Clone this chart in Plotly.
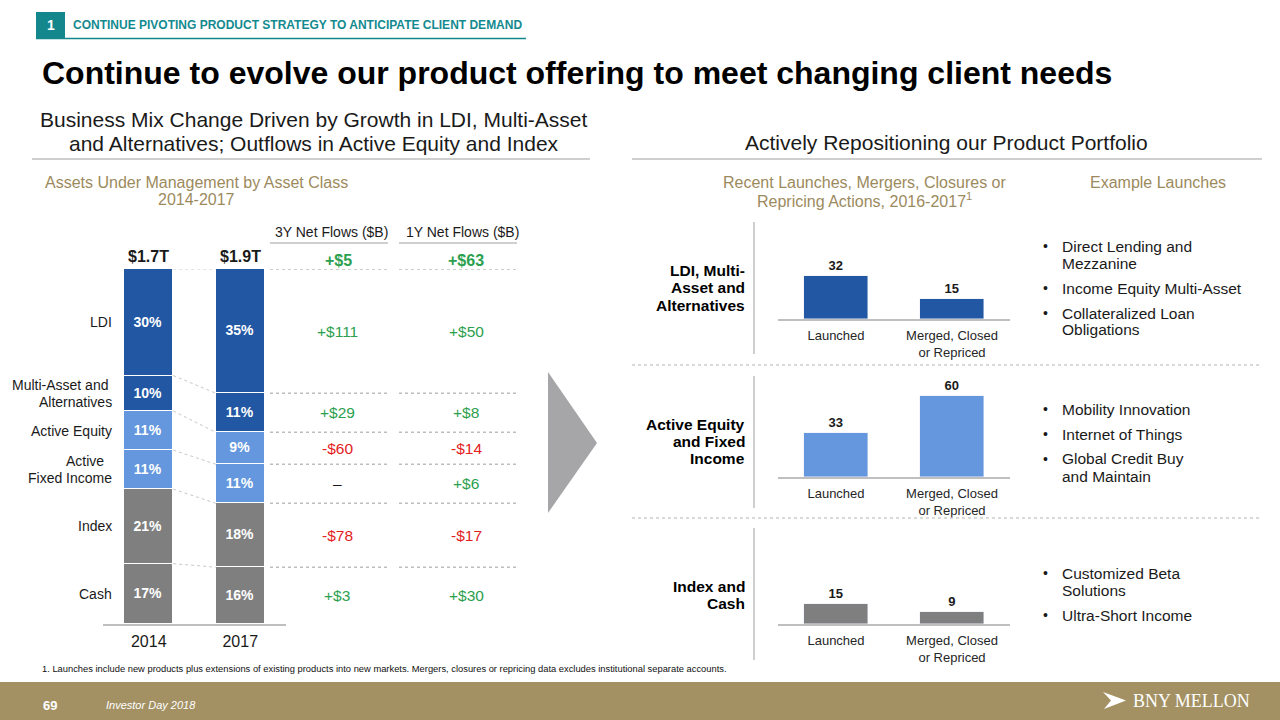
import plotly.graph_objects as go

W, H = 1280, 720


def px(x):
    return x / W


def py(y):
    return 1 - y / H


FONT = "Liberation Sans, Arial, Helvetica, sans-serif"
SERIF = "Liberation Serif, Times New Roman, serif"

# ---------------- data ----------------
years = ["2014", "2017"]
aum_totals = ["$1.7T", "$1.9T"]
asset_classes = ["LDI", "Multi-Asset and Alternatives", "Active Equity",
                 "Active Fixed Income", "Index", "Cash"]
class_label_lines = [["LDI"], ["Multi-Asset and\u00a0", "Alternatives"], ["Active Equity"],
                     ["Active\u00a0\u00a0", "Fixed Income"], ["Index"], ["Cash"]]
mix_2014 = [30, 10, 11, 11, 21, 17]
mix_2017 = [35, 11, 9, 11, 18, 16]
flows_3y = [111, 29, -60, None, -78, 3]
flows_1y = [50, 8, -14, 6, -17, 30]
total_flow_3y = 5
total_flow_1y = 63

action_cats = ["Launched", "Merged, Closed<br>or Repriced"]
group_label_lines = [["LDI, Multi-", "Asset and", "Alternatives"],
                     ["Active Equity", "and Fixed", "Income"],
                     ["Index and", "Cash"]]
launched = [32, 33, 15]
merged = [15, 60, 9]
examples = [
    [["Direct Lending and", "Mezzanine"], ["Income Equity Multi-Asset"],
     ["Collateralized Loan", "Obligations"]],
    [["Mobility Innovation"], ["Internet of Things"], ["Global Credit Buy", "and Maintain"]],
    [["Customized Beta", "Solutions"], ["Ultra-Short Income"]],
]

# ---------------- styles ----------------
DARK_BLUE = "#2257A4"
LIGHT_BLUE = "#6497DD"
GRAY = "#7F7F7F"
class_colors = [DARK_BLUE, DARK_BLUE, LIGHT_BLUE, LIGHT_BLUE, GRAY, GRAY]
group_colors = [DARK_BLUE, LIGHT_BLUE, GRAY]
GREEN = "#2BA04E"
RED = "#E3211C"
TEAL = "#14878D"
TAN = "#9C8A5D"
BAND = "#A39163"
TXT = "#1A1A1A"
LINE_GRAY = "#C4C4C4"


def fmt_flow(v):
    if v is None:
        return "\u2013"
    return f"+${v}" if v > 0 else f"-${-v}"


def flow_color(v):
    if v is None:
        return TXT
    return GREEN if v > 0 else RED


fig = go.Figure()

# ---- stacked AUM bars ----
BAR_W = 0.535
for i in reversed(range(len(asset_classes))):
    fig.add_trace(go.Bar(
        x=[0, 1], y=[mix_2014[i], mix_2017[i]], width=BAR_W,
        name=asset_classes[i],
        marker=dict(color=class_colors[i], line=dict(color="white", width=1.5)),
        text=[f"{mix_2014[i]}%", f"{mix_2017[i]}%"],
        texttemplate="<b>%{text}</b>", textposition="inside",
        insidetextanchor="middle", textangle=0,
        textfont=dict(color="white", size=14, family=FONT),
        xaxis="x", yaxis="y", hoverinfo="skip"))

# ---- small action charts ----
baselines = [319, 477, 624]
for g in range(3):
    fig.add_trace(go.Bar(
        x=[0, 1], y=[launched[g], merged[g]], width=0.55,
        marker=dict(color=group_colors[g]),
        text=[str(launched[g]), str(merged[g])],
        texttemplate="<b>%{text}</b>", textposition="outside", cliponaxis=False,
        textfont=dict(color=TXT, size=13, family=FONT),
        xaxis=f"x{g + 2}", yaxis=f"y{g + 2}", hoverinfo="skip"))

layout_axes = dict(
    xaxis=dict(domain=[px(103), px(286)], range=[-0.5, 1.5], tickvals=[0, 1], ticktext=years,
               showline=True, linecolor="#BFBFBF", linewidth=2, ticks="", showgrid=False,
               zeroline=False, tickfont=dict(size=16, color=TXT, family=FONT),
               ticklabelstandoff=2, anchor="y", fixedrange=True),
    yaxis=dict(domain=[py(624), py(269)], range=[0, 100], visible=False, anchor="x",
               fixedrange=True),
)
for g in range(3):
    n = g + 2
    layout_axes[f"xaxis{n}"] = dict(
        domain=[px(778), px(1010)], range=[-0.5, 1.5], tickvals=[0, 1], ticktext=action_cats,
        showline=True, linecolor="#BFBFBF", linewidth=1.5, ticks="", showgrid=False,
        zeroline=False, tickfont=dict(size=13, color="#262626", family=FONT),
        ticklabelstandoff=4, anchor=f"y{n}", fixedrange=True)
    layout_axes[f"yaxis{n}"] = dict(
        domain=[py(baselines[g]), py(baselines[g] - 94)], range=[0, 70], visible=False,
        anchor=f"x{n}", fixedrange=True)

shapes = []
annotations = []


def ann(text, x, y, size=14, color=TXT, bold=False, xanchor="center", yanchor="middle",
        family=FONT, xref="paper", yref="paper", yshift=0, italic=False):
    t = f"<b>{text}</b>" if bold else text
    if italic:
        t = f"<i>{t}</i>"
    annotations.append(dict(
        text=t, x=(px(x) if xref == "paper" else x), y=(py(y) if yref == "paper" else y),
        xref=xref, yref=yref, xanchor=xanchor, yanchor=yanchor, showarrow=False,
        font=dict(size=size, color=color, family=family), yshift=yshift, align="left"))


def line(x0, y0, x1, y1, color=LINE_GRAY, width=1.5, dash="solid", xref="paper", yref="paper"):
    shapes.append(dict(type="line", xref=xref, yref=yref,
                       x0=(px(x0) if xref == "paper" else x0),
                       x1=(px(x1) if xref == "paper" else x1),
                       y0=(py(y0) if yref == "paper" else y0),
                       y1=(py(y1) if yref == "paper" else y1),
                       line=dict(color=color, width=width, dash=dash)))


def rect(x0, y0, x1, y1, color):
    shapes.append(dict(type="rect", xref="paper", yref="paper", x0=px(x0), x1=px(x1),
                       y0=py(y1), y1=py(y0), fillcolor=color, line=dict(width=0),
                       layer="below"))


def path(points, color):
    d = "M " + " L ".join(f"{px(a):.5f},{py(b):.5f}" for a, b in points) + " Z"
    shapes.append(dict(type="path", xref="paper", yref="paper", path=d, fillcolor=color,
                       line=dict(width=0)))


# ---- header ----
rect(36, 12, 65, 38, TEAL)
ann("1", 50.5, 25.5, size=14, color="white", bold=True)
ann("CONTINUE PIVOTING PRODUCT STRATEGY TO ANTICIPATE CLIENT DEMAND", 71, 25.5, size=12,
    color="#138A8F", bold=True, xanchor="left")
line(36, 38.5, 526, 38.5, color=TEAL, width=1.5)
ann("Continue to evolve our product offering to meet changing client needs", 40, 73,
    size=32, color="black", bold=True, xanchor="left")

# ---- section titles ----
ann("Business Mix Change Driven by Growth in LDI, Multi-Asset", 314, 120, size=21)
ann("and Alternatives; Outflows in Active Equity and Index", 314, 144, size=21)
ann("Actively Repositioning our Product Portfolio", 946, 143, size=21)
line(32, 159, 590, 159, color="#CFCFCF", width=2)
line(632, 159, 1262, 159, color="#CFCFCF", width=2)

ann("Assets Under Management by Asset Class", 196, 182, size=16, color=TAN)
ann("2014-2017", 196, 199, size=16, color=TAN)
ann("Recent Launches, Mergers, Closures or", 864, 182, size=16, color=TAN)
ann("Repricing Actions, 2016-2017<sup>1</sup>", 864, 200, size=16, color=TAN)
ann("Example Launches", 1158, 182, size=16, color=TAN)

# ---- AUM totals ----
for i, t in enumerate(aum_totals):
    ann(t, i, 256, size=16, bold=True, xref="x")


# boundaries (from top) for each year
def bounds(mix):
    out = [100]
    for v in mix:
        out.append(out[-1] - v)
    return out


b14 = bounds(mix_2014)
b17 = bounds(mix_2017)

# connectors between bars
for k in range(len(asset_classes)):
    line(0 + BAR_W / 2, b14[k], 1 - BAR_W / 2, b17[k], color="#C8C8C8", width=1,
         dash="dot", xref="x", yref="y")

# class labels (left)
for i, lines_ in enumerate(class_label_lines):
    mid = b14[i] - mix_2014[i] / 2
    n = len(lines_)
    for j, txt in enumerate(lines_):
        shift = (n - 1) / 2 * 17 - j * 17
        ann(txt, 114, mid, size=14, xanchor="right", yref="y", yshift=shift)

# ---- net flows table ----
ann("3Y Net Flows ($B)", 331, 232, size=14)
ann("1Y Net Flows ($B)", 462, 232, size=14)
line(270, 243, 388, 243, color="#BFBFBF", width=1.5)
line(399, 243, 517, 243, color="#BFBFBF", width=1.5)
ann(fmt_flow(total_flow_3y), 338, 260, size=16, bold=True, color=flow_color(total_flow_3y))
ann(fmt_flow(total_flow_1y), 466, 260, size=16, bold=True, color=flow_color(total_flow_1y))
for k in range(len(asset_classes)):
    for (x0, x1) in [(270, 388), (399, 517)]:
        line(x0, b17[k], x1, b17[k], color="#BDBDBD", width=1.5, dash="dot", yref="y")
for i in range(len(asset_classes)):
    mid = b17[i] - mix_2017[i] / 2
    ann(fmt_flow(flows_3y[i]), 337, mid, size=15.5, color=flow_color(flows_3y[i]), yref="y")
    ann(fmt_flow(flows_1y[i]), 466, mid, size=15.5, color=flow_color(flows_1y[i]), yref="y")

# ---- arrow ----
path([(548, 372), (597, 443), (548, 513)], "#A6A6A9")

# ---- right panel ----
vlines = [(222, 354), (376, 508), (528, 660)]
for (y0, y1) in vlines:
    line(754, y0, 754, y1, color="#BFBFBF", width=1.5)
line(632, 365, 1262, 365, color="#CDCDCD", width=1.5, dash="dot")
line(632, 518, 1262, 518, color="#CDCDCD", width=1.5, dash="dot")

group_label_first = [270, 424, 586]
for g, lines_ in enumerate(group_label_lines):
    for j, txt in enumerate(lines_):
        ann(txt, 747, group_label_first[g] + j * 17.5, size=15.5, bold=True, xanchor="right",
            color="black")

example_first = [246, 409, 573]
for g, items in enumerate(examples):
    y = example_first[g]
    for it, item in enumerate(items):
        if it > 0:
            y += 25
        for j, txt in enumerate(item):
            if j > 0:
                y += 17
            if j == 0:
                ann("\u2022", 1045, y, size=14, xanchor="center")
            ann(txt, 1060, y, size=15.5, xanchor="left")

# ---- footnote ----
ann("1. Launches include new products plus extensions of existing products into new markets. "
    "Mergers, closures or repricing data excludes institutional separate accounts.",
    40, 669, size=9.35, xanchor="left", color="#111111")

# ---- footer band ----
rect(0, 682, 1280, 720, BAND)
ann("69", 41, 705, size=13, bold=True, color="white", xanchor="left")
ann("Investor Day 2018", 104, 705, size=11, color="white", xanchor="left", italic=True)
path([(1103, 692), (1126, 700.5), (1104, 709), (1111, 700.5)], "white")
ann("BNY MELLON", 1131, 701, size=18, color="white", xanchor="left", family=SERIF)

fig.update_layout(
    width=W, height=H, margin=dict(l=0, r=0, t=0, b=0),
    paper_bgcolor="white", plot_bgcolor="white", showlegend=False,
    barmode="stack", bargap=0, font=dict(family=FONT, color=TXT),
    shapes=shapes, annotations=annotations, **layout_axes)

fig.write_html(
    "out.html",
    config={"displayModeBar": False},
    post_script="document.body.style.margin='0';document.body.style.padding='0';"
                "document.body.style.overflow='hidden';")
